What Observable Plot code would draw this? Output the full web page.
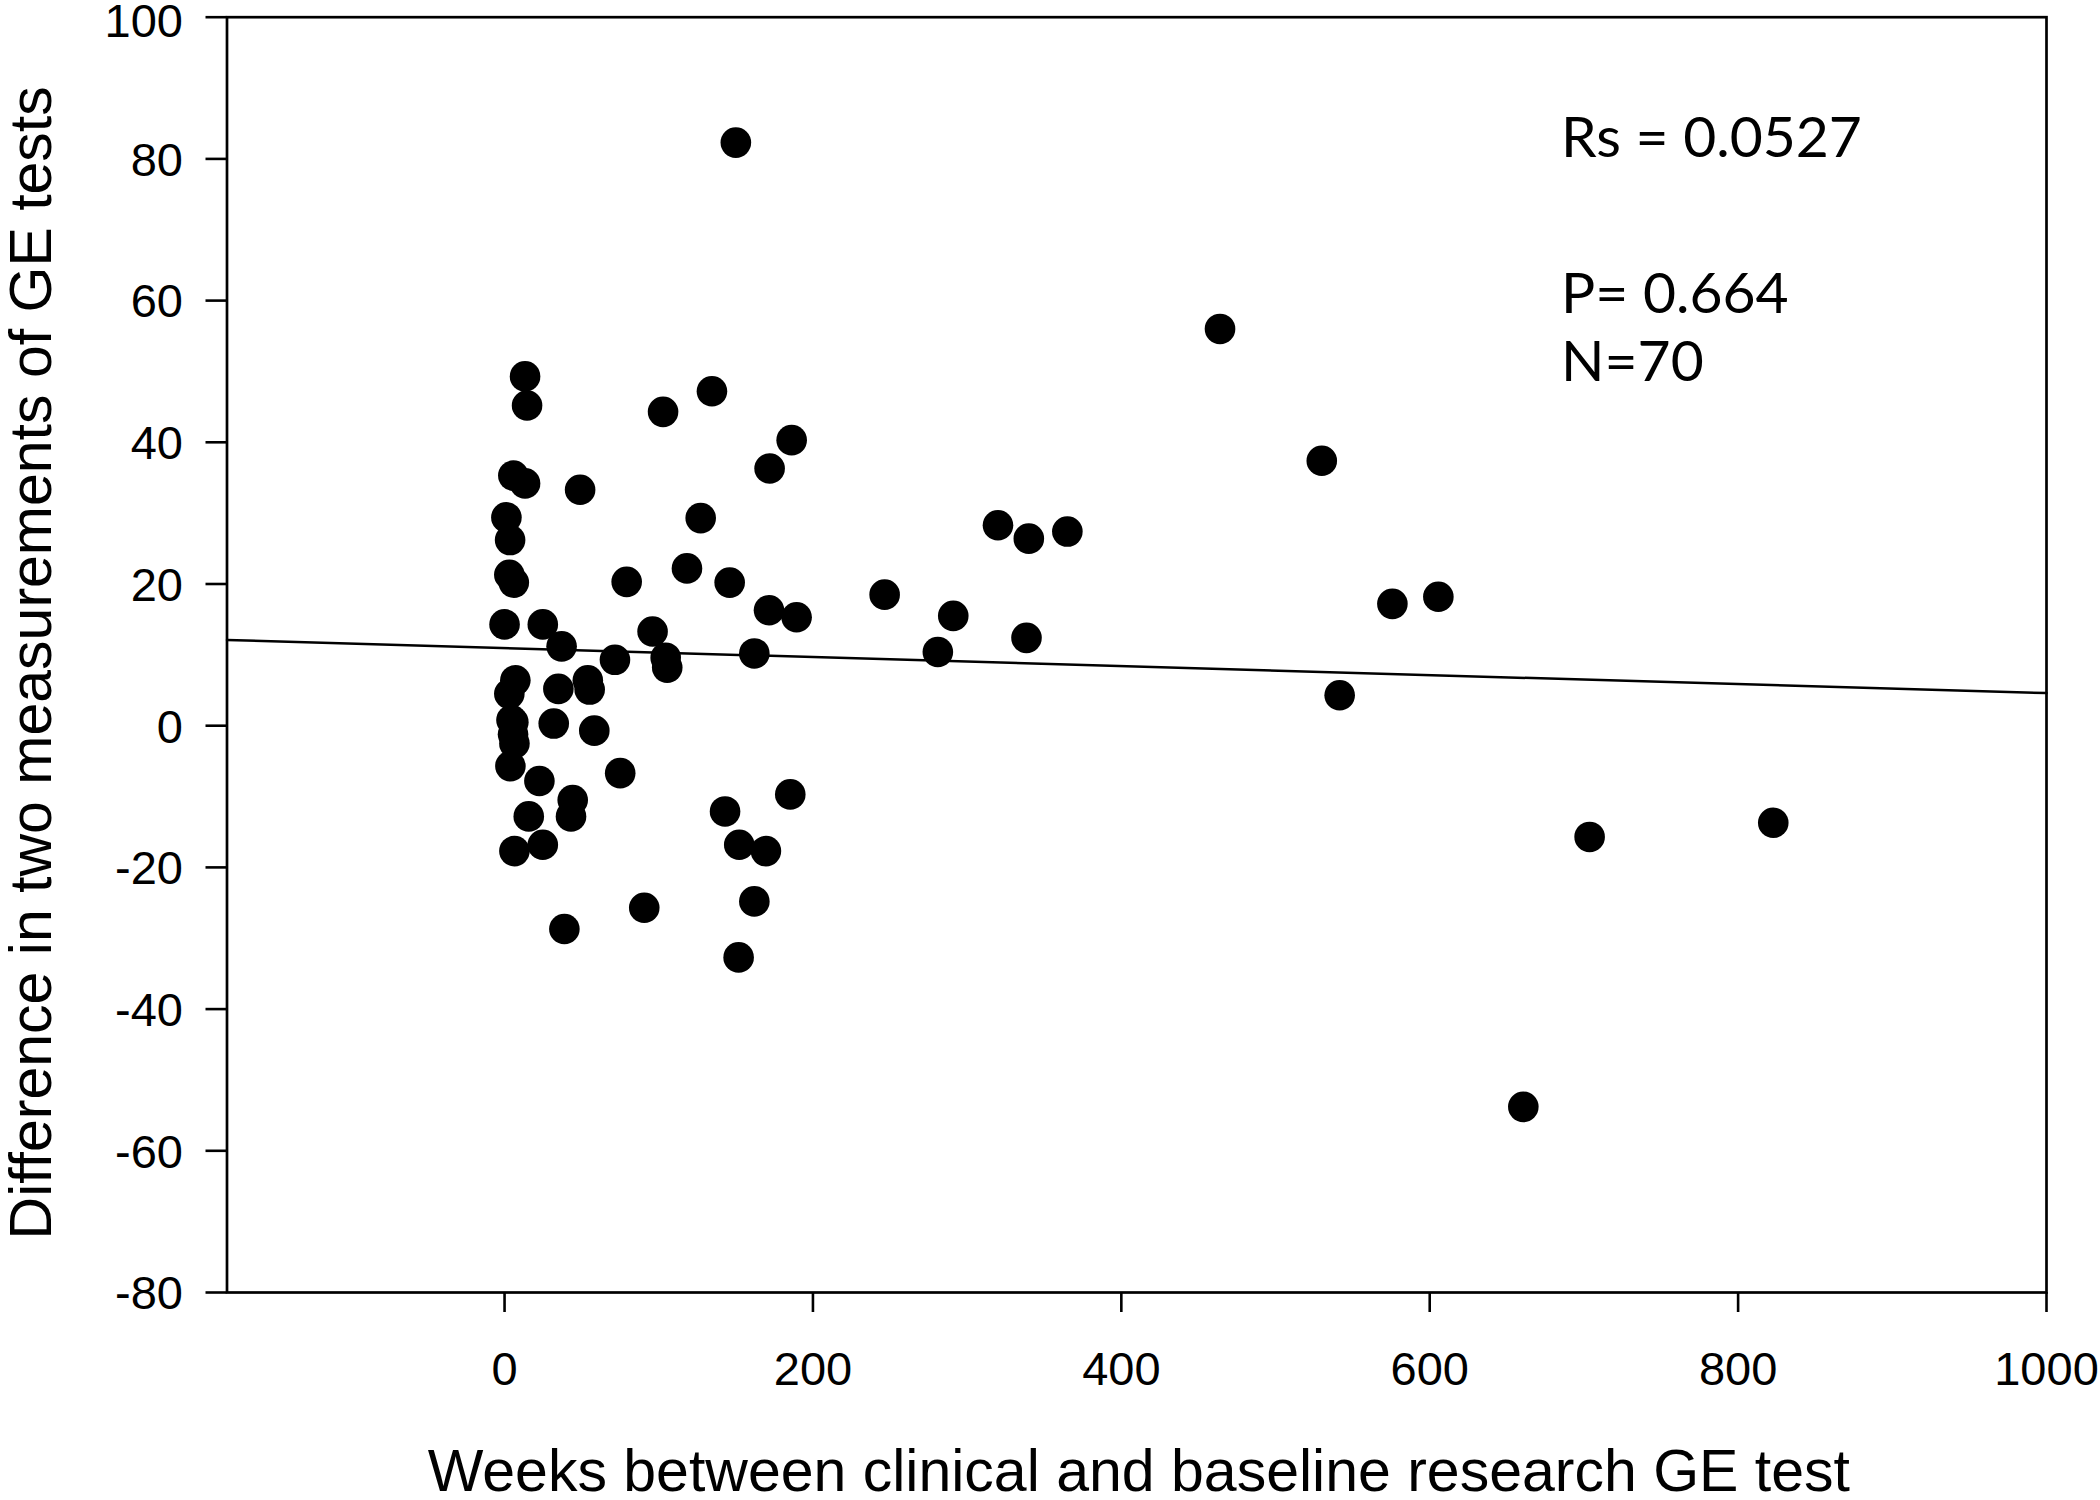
<!DOCTYPE html>
<html><head><meta charset="utf-8">
<script src="https://cdn.jsdelivr.net/npm/d3@7"></script>
<script src="https://cdn.jsdelivr.net/npm/@observablehq/plot@0.6"></script>
<style>body{margin:0;background:#fff}</style>
</head><body><div id="chart"></div>
<script>
// Weeks between clinical and baseline research GE test
const weeks = [
  13.3, 14.6, 5.7, 13.3, 49, 1.2, 3.6, 3.1, 6, 79.2,
  0, 24.8, 37, 71.6, 7, 3.1, 34.9, 54, 55.2, 5.7,
  4.5, 5.5, 31.9, 6.4, 3.8, 58.2, 75, 22.6, 44.2, 43.1,
  15.7, 24.8, 6.4, 90.6, 38.8,
  96, 104.5, 105.5, 102.8, 134.5, 127.2, 118.3, 146, 150, 186.2,
  171.9, 171.5, 189.4, 162, 143, 185.3, 152.2, 169.5, 162, 151.8,
  246.5, 281, 291, 320, 340, 365, 338.5, 464, 530, 541.6,
  575.8, 605.6, 660.7, 703.7, 822.8
];
// Difference in two measurements of GE tests
const diffs = [
  49.3, 45.2, 35.3, 34.2, 33.3, 29.4, 26.2, 21.3, 20.2, 20.3,
  14.3, 14.3, 11.2, 9.3, 6.4, 4.5, 5.2, 6.4, 5.1, 0.5,
  0.8, -1.2, 0.3, -2.5, -5.7, -0.7, -6.7, -7.8, -10.5, -12.8,
  -12.8, -16.8, -17.7, -25.7, -28.7,
  13.3, 9.6, 8.2, 44.3, 47.2, 29.3, 22.2, 20.2, 82.3, 40.3,
  36.3, 16.3, 15.3, 10.2, -12.1, -9.7, -16.8, -17.7, -24.8, -32.7,
  18.5, 10.4, 15.5, 28.3, 26.4, 27.4, 12.4, 56, 37.4, 4.3,
  17.2, 18.2, -53.8, -15.7, -13.7
];
// Fitted regression line end points
const fitX = [-180, 1000];
const fitY = [12.1, 4.6];

const xTicks = [0, 200, 400, 600, 800, 1000];
const yTicks = [-80, -60, -40, -20, 0, 20, 40, 60, 80, 100];
const yLowerTicks = [-80, -60, -40, -20, 0, 20, 40, 60, 80];
const yTopTick = [100];
const xDomain = [-180, 1000];
const yDomain = [-80, 100];

const xLabel = "Weeks between clinical and baseline research GE test";
const yLabel = "Difference in two measurements of GE tests";
const statRs = "Rs = 0.0527";
const statP = "P= 0.664";
const statN = "N=70";

const points = weeks.map((w, i) => ({w, d: diffs[i]}));
const fit = fitX.map((x, i) => ({x, y: fitY[i]}));

const statFont = {fontFamily: "Lato, 'Open Sans', sans-serif", fontSize: 57, textAnchor: "start", lineAnchor: "bottom", frameAnchor: "top-left", text: d => d};
const yLabelStyle = {tickSize: 0, tickPadding: 44, tickFormat: d => String(d), label: null, fontSize: 47};

const chart = Plot.plot({
  width: 2100,
  height: 1500,
  marginLeft: 226.5,
  marginRight: 54,
  marginTop: 16.7,
  marginBottom: 208,
  style: {fontFamily: "'Liberation Sans', Arial, sans-serif", fontSize: "47px", background: "#fff", color: "#000", overflow: "visible"},
  x: {domain: xDomain},
  y: {domain: yDomain},
  marks: [
    Plot.frame({stroke: "#000", strokeWidth: 2.7}),
    Plot.axisX({ticks: xTicks, tickSize: 20, tickPadding: 39, tickFormat: d => String(d), label: null, strokeWidth: 2.6, fontSize: 47}),
    Plot.axisY({ticks: yTicks, tickSize: 21, tickFormat: () => "", label: null, strokeWidth: 2.6}),
    Plot.axisY({...yLabelStyle, ticks: yLowerTicks, dy: 1.8}),
    Plot.axisY({...yLabelStyle, ticks: yTopTick, dy: 5}),
    Plot.line(fit, {x: "x", y: "y", stroke: "#000", strokeWidth: 2.5}),
    Plot.dot(points, {x: "w", y: "d", r: 15.3, fill: "#000", stroke: "none"}),
    Plot.text([xLabel], {text: d => d, frameAnchor: "bottom", dx: 2, dy: 198, fontSize: 59, textAnchor: "middle", lineAnchor: "bottom"}),
    Plot.text([yLabel], {text: d => d, frameAnchor: "left", rotate: -90, dx: -176.5, dy: 8, fontSize: 59, textAnchor: "middle", lineAnchor: "bottom"}),
    Plot.text([statRs], {...statFont, dx: 1334, dy: 140}),
    Plot.text([statP], {...statFont, dx: 1334, dy: 295.6}),
    Plot.text([statN], {...statFont, dx: 1334, dy: 363.3})
  ]
});
document.getElementById("chart").appendChild(chart);
</script>
</body></html>
